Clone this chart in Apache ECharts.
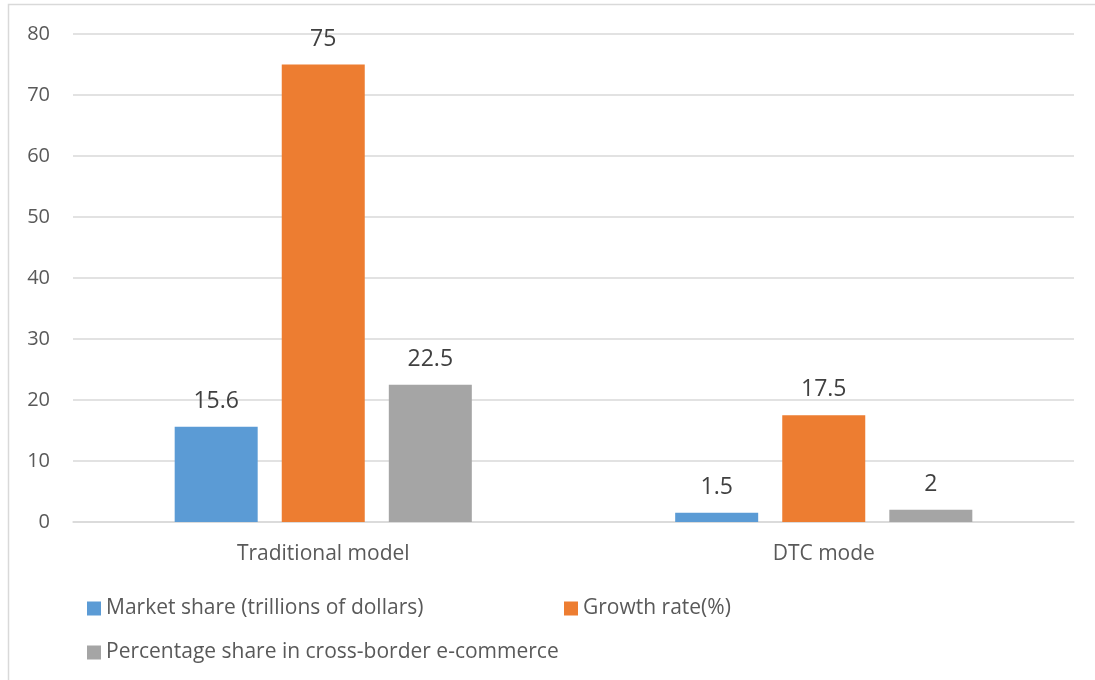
<!DOCTYPE html>
<html><head><meta charset="utf-8">
<script src="https://cdn.jsdelivr.net/npm/echarts@6/dist/echarts.min.js"></script>
<style>html,body{margin:0;padding:0;background:#fff}#c{width:1095px;height:680px}</style>
</head><body><div id="c"></div>
<script>
const categories = ['Traditional model', 'DTC mode'];
const seriesNames = ['Market share (trillions of dollars)', 'Growth rate(%)', 'Percentage share in cross-border e-commerce'];
const marketShare = [15.6, 1.5];
const growthRate = [75, 17.5];
const percentageShare = [22.5, 2];
const colors = ['#5B9BD5', '#ED7D31', '#A5A5A5'];
const font = '"Open Sans", "Noto Sans", sans-serif';
const chart = echarts.init(document.getElementById('c'));
const values = [marketShare, growthRate, percentageShare];
const legendPos = [{left: 87, top: 598}, {left: 564, top: 598}, {left: 87, top: 642}];
chart.setOption({
  animation: false,
  color: colors,
  graphic: [{type: 'rect', shape: {x: 8.5, y: 4.5, width: 1100, height: 700}, style: {fill: 'none', stroke: '#D9D9D9', lineWidth: 1.5}, silent: true}],
  grid: {left: 73, right: 21, top: 34, bottom: 158},
  legend: legendPos.map((p, i) => ({
    data: [seriesNames[i]], left: p.left, top: p.top, padding: 0, itemWidth: 14, itemHeight: 14, itemGap: 6,
    icon: 'rect', textStyle: {color: '#595959', fontSize: 21, fontFamily: font}
  })),
  xAxis: {
    type: 'category', data: categories,
    axisLine: {lineStyle: {color: '#D9D9D9', width: 1.5}}, axisTick: {show: false},
    axisLabel: {color: '#595959', fontSize: 21, fontFamily: font, margin: 22}
  },
  yAxis: {
    type: 'value', min: 0, max: 80, interval: 10,
    axisLine: {show: false}, axisTick: {show: false},
    splitLine: {lineStyle: {color: '#D9D9D9', width: 1.5}},
    axisLabel: {color: '#595959', fontSize: 20, fontFamily: font, margin: 23}
  },
  series: seriesNames.map((n, i) => ({
    name: n, type: 'bar', data: values[i], barWidth: 83, barGap: '29%',
    label: {show: true, position: 'top', distance: 14, color: '#404040', fontSize: 23, fontFamily: font}
  }))
});
</script></body></html>
